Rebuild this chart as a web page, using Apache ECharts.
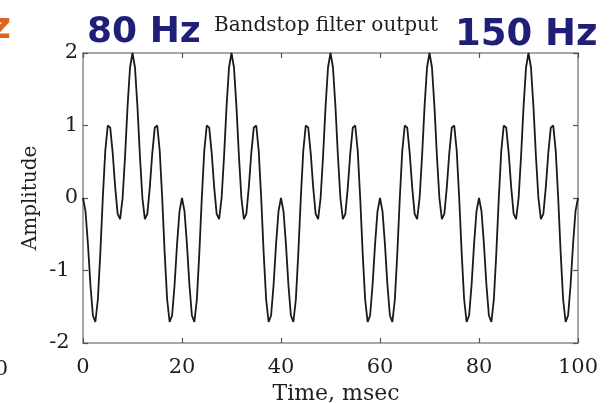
<!DOCTYPE html>
<html><head><meta charset="utf-8">
<script src="https://cdn.jsdelivr.net/npm/echarts@6/dist/echarts.min.js"></script>
<style>html,body{margin:0;padding:0;background:#fff}#c{width:609px;height:403px}</style>
</head><body><div id="c"></div>
<script>
// time in msec (samples every 0.5 ms)
const timeMs = [
0,0.5,1,1.5,2,2.5,3,3.5,4,4.5,5,5.5,6,6.5,7,7.5,8,8.5,9,9.5,
10,10.5,11,11.5,12,12.5,13,13.5,14,14.5,15,15.5,16,16.5,17,17.5,18,18.5,19,19.5,
20,20.5,21,21.5,22,22.5,23,23.5,24,24.5,25,25.5,26,26.5,27,27.5,28,28.5,29,29.5,
30,30.5,31,31.5,32,32.5,33,33.5,34,34.5,35,35.5,36,36.5,37,37.5,38,38.5,39,39.5,
40,40.5,41,41.5,42,42.5,43,43.5,44,44.5,45,45.5,46,46.5,47,47.5,48,48.5,49,49.5,
50,50.5,51,51.5,52,52.5,53,53.5,54,54.5,55,55.5,56,56.5,57,57.5,58,58.5,59,59.5,
60,60.5,61,61.5,62,62.5,63,63.5,64,64.5,65,65.5,66,66.5,67,67.5,68,68.5,69,69.5,
70,70.5,71,71.5,72,72.5,73,73.5,74,74.5,75,75.5,76,76.5,77,77.5,78,78.5,79,79.5,
80,80.5,81,81.5,82,82.5,83,83.5,84,84.5,85,85.5,86,86.5,87,87.5,88,88.5,89,89.5,
90,90.5,91,91.5,92,92.5,93,93.5,94,94.5,95,95.5,96,96.5,97,97.5,98,98.5,99,99.5,
100
];
// amplitude
const amplitude = [
0,-0.18,-0.64,-1.2,-1.62,-1.71,-1.4,-0.76,0,0.65,1,0.97,0.62,0.15,-0.22,-0.29,0,0.58,1.26,1.8,
2,1.8,1.26,0.58,0,-0.29,-0.22,0.15,0.62,0.97,1,0.65,0,-0.76,-1.4,-1.71,-1.62,-1.2,-0.64,-0.18,
0,-0.18,-0.64,-1.2,-1.62,-1.71,-1.4,-0.76,0,0.65,1,0.97,0.62,0.15,-0.22,-0.29,0,0.58,1.26,1.8,
2,1.8,1.26,0.58,0,-0.29,-0.22,0.15,0.62,0.97,1,0.65,0,-0.76,-1.4,-1.71,-1.62,-1.2,-0.64,-0.18,
0,-0.18,-0.64,-1.2,-1.62,-1.71,-1.4,-0.76,0,0.65,1,0.97,0.62,0.15,-0.22,-0.29,0,0.58,1.26,1.8,
2,1.8,1.26,0.58,0,-0.29,-0.22,0.15,0.62,0.97,1,0.65,0,-0.76,-1.4,-1.71,-1.62,-1.2,-0.64,-0.18,
0,-0.18,-0.64,-1.2,-1.62,-1.71,-1.4,-0.76,0,0.65,1,0.97,0.62,0.15,-0.22,-0.29,0,0.58,1.26,1.8,
2,1.8,1.26,0.58,0,-0.29,-0.22,0.15,0.62,0.97,1,0.65,0,-0.76,-1.4,-1.71,-1.62,-1.2,-0.64,-0.18,
0,-0.18,-0.64,-1.2,-1.62,-1.71,-1.4,-0.76,0,0.65,1,0.97,0.62,0.15,-0.22,-0.29,0,0.58,1.26,1.8,
2,1.8,1.26,0.58,0,-0.29,-0.22,0.15,0.62,0.97,1,0.65,0,-0.76,-1.4,-1.71,-1.62,-1.2,-0.64,-0.18,
0
];
const xRange = [0, 100], xStep = 20;
const yRange = [-2, 2], yStep = 1;
const titleText = 'Bandstop filter output';
const leftFreq = '80 Hz', rightFreq = '150 Hz';
const xName = 'Time, msec', yName = 'Amplitude';

const points = timeMs.map((t, i) => [t, amplitude[i]]);
const serif = 'DejaVu Serif';
const frame = { lineStyle: { color: '#8a8a8a', width: 1.5 } };
const chart = echarts.init(document.getElementById('c'), null, { renderer: 'canvas' });
chart.setOption({
  animation: false,
  backgroundColor: '#ffffff',
  grid: { left: 83, right: 31, top: 53, bottom: 60, containLabel: false },
  xAxis: [
    { type: 'value', min: xRange[0], max: xRange[1], interval: xStep, position: 'bottom',
      axisLine: { show: true, onZero: false, ...frame },
      axisTick: { show: true, inside: true, length: 5, lineStyle: { color: '#555', width: 1.2 } },
      axisLabel: { margin: 14, fontFamily: serif, fontSize: 21, color: '#1e1e1e' },
      splitLine: { show: false } },
    { type: 'value', min: xRange[0], max: xRange[1], interval: xStep, position: 'top',
      axisLine: { show: true, onZero: false, ...frame },
      axisTick: { show: true, inside: true, length: 5, lineStyle: { color: '#555', width: 1.2 } },
      axisLabel: { show: false }, splitLine: { show: false } }
  ],
  yAxis: [
    { type: 'value', min: yRange[0], max: yRange[1], interval: yStep, position: 'left',
      axisLine: { show: true, onZero: false, ...frame },
      axisTick: { show: true, inside: true, length: 5, lineStyle: { color: '#555', width: 1.2 } },
      axisLabel: { margin: 5, fontFamily: serif, fontSize: 21, color: '#1e1e1e',
        formatter: v => (v < 0 ? v + '\u2009\u2009' : String(v)) },
      splitLine: { show: false } },
    { type: 'value', min: yRange[0], max: yRange[1], interval: yStep, position: 'right',
      axisLine: { show: true, onZero: false, ...frame },
      axisTick: { show: true, inside: true, length: 5, lineStyle: { color: '#555', width: 1.2 } },
      axisLabel: { show: false }, splitLine: { show: false } }
  ],
  series: [{
    type: 'line', xAxisIndex: 0, yAxisIndex: 0, data: points,
    showSymbol: false, clip: false,
    lineStyle: { color: '#1a1a1a', width: 1.8 }
  }],
  graphic: [
    { type: 'text', x: 11, y: 29, style: { text: 'Hz', font: 'bold 36px "DejaVu Sans"', fill: '#e0641e', align: 'right', verticalAlign: 'middle' } },
    { type: 'text', x: 87, y: 33, style: { text: leftFreq, font: 'bold 36px "DejaVu Sans"', fill: '#1f1f78', align: 'left', verticalAlign: 'middle' } },
    { type: 'text', x: 214, y: 26, style: { text: titleText, font: '20px "DejaVu Serif"', fill: '#1e1e1e', align: 'left', verticalAlign: 'middle' } },
    { type: 'text', x: 455, y: 35, style: { text: rightFreq, font: 'bold 37px "DejaVu Sans"', fill: '#1f1f78', align: 'left', verticalAlign: 'middle' } },
    { type: 'text', x: 31, y: 198, rotation: Math.PI / 2, style: { text: yName, font: '20px "DejaVu Serif"', fill: '#1e1e1e', align: 'center', verticalAlign: 'middle' } },
    { type: 'text', x: 336, y: 394, style: { text: xName, font: '22px "DejaVu Serif"', fill: '#1e1e1e', align: 'center', verticalAlign: 'middle' } },
    { type: 'text', x: 8, y: 370, style: { text: '100', font: '21px "DejaVu Serif"', fill: '#1e1e1e', align: 'right', verticalAlign: 'middle' } }
  ]
});
</script>
</body></html>
